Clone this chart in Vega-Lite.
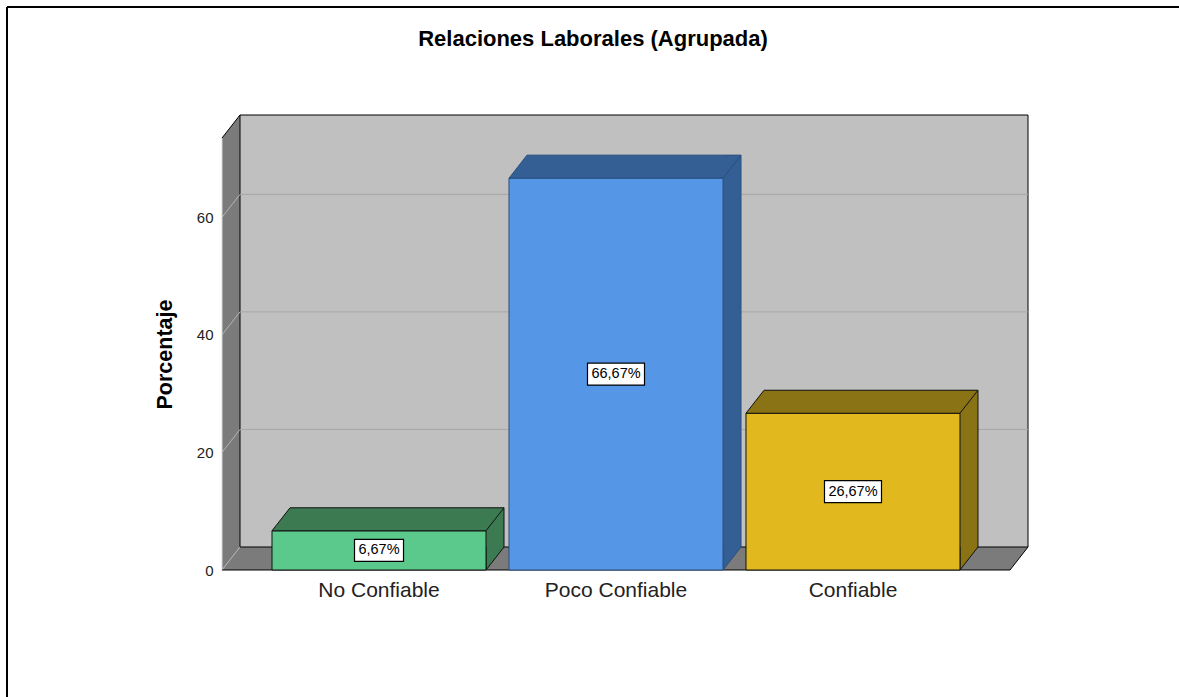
{
  "$schema": "https://vega.github.io/schema/vega-lite/v6.json",
  "width": 788,
  "height": 432,
  "autosize": {"type": "none"},
  "padding": {"left": 222, "top": 138, "right": 169, "bottom": 127},
  "background": "white",
  "config": {
    "view": {"stroke": null},
    "font": "Liberation Sans"
  },
  "title": {
    "text": "Relaciones Laborales (Agrupada)",
    "anchor": "middle",
    "frame": "group",
    "dx": -23,
    "offset": -45,
    "fontSize": 22,
    "fontWeight": "bold",
    "font": "Liberation Sans",
    "color": "#000"
  },
  "data": {
    "values": [
      {"cat": "No Confiable", "pct": 6.67, "label": "6,67%"},
      {"cat": "Poco Confiable", "pct": 66.67, "label": "66,67%"},
      {"cat": "Confiable", "pct": 26.67, "label": "26,67%"}
    ]
  },
  "resolve": {"scale": {"y": "independent"}},
  "layer": [
    {
      "layer": [
        {
          "data": {"values": [{"k": 0}]},
          "mark": {"type": "point", "shape": "M0,0 L0,-432 L18,-455 L18,-23 Z", "size": 4, "filled": true, "fill": "#7b7b7b", "strokeWidth": 0, "opacity": 1},
          "encoding": {"x": {"value": 0}, "y": {"datum": 0, "type": "quantitative"}}
        },
        {
          "data": {"values": [{"k": 0}]},
          "mark": {"type": "point", "shape": "M0,0 L788,0 L806,-23 L18,-23 Z", "size": 4, "filled": true, "fill": "#7b7b7b", "strokeWidth": 0, "opacity": 1},
          "encoding": {"x": {"value": 0}, "y": {"datum": 0, "type": "quantitative"}}
        },
        {
          "data": {"values": [{"k": 0}]},
          "mark": {"type": "rect", "fill": "#c0c0c0", "stroke": "#000", "strokeWidth": 1, "xOffset": 18, "x2Offset": 18, "yOffset": -23, "y2Offset": -23},
          "encoding": {"x": {"value": 0}, "x2": {"value": "width"}, "y": {"datum": 73.5, "type": "quantitative"}, "y2": {"datum": 0}}
        },
        {
          "data": {"values": [{"v": 20}, {"v": 40}, {"v": 60}]},
          "mark": {"type": "rule", "stroke": "#a6a6a6", "strokeWidth": 1, "xOffset": 18, "x2Offset": 18, "yOffset": -23},
          "encoding": {"x": {"value": 0}, "x2": {"value": "width"}, "y": {"field": "v", "type": "quantitative"}}
        },
        {
          "data": {"values": [{"v": 0}, {"v": 20}, {"v": 40}, {"v": 60}]},
          "mark": {"type": "rule", "stroke": "#b4b4b4", "strokeWidth": 1, "x2Offset": 18, "y2Offset": -23},
          "encoding": {"x": {"value": 0}, "x2": {"value": 0}, "y": {"field": "v", "type": "quantitative"}, "y2": {"field": "v"}}
        },
        {
          "data": {"values": [{"k": 0}]},
          "mark": {"type": "rule", "stroke": "#d8d8d8", "strokeWidth": 1},
          "encoding": {"x": {"value": 0}, "y": {"datum": 0, "type": "quantitative"}, "y2": {"datum": 73.5}}
        },
        {
          "data": {"values": [{"k": 0}]},
          "mark": {"type": "rule", "stroke": "#000", "strokeWidth": 1, "x2Offset": 18, "y2Offset": -23},
          "encoding": {"x": {"value": 0}, "x2": {"value": 0}, "y": {"datum": 73.5, "type": "quantitative"}, "y2": {"datum": 73.5}}
        },
        {
          "data": {"values": [{"k": 0}]},
          "mark": {"type": "point", "shape": "M0,0 L788,0 L806,-23", "size": 4, "filled": false, "fill": "transparent", "stroke": "#000", "strokeWidth": 1, "opacity": 1},
          "encoding": {"x": {"value": 0}, "y": {"datum": 0, "type": "quantitative"}}
        },
        {
          "data": {"values": [{"k": 0}]},
          "mark": {"type": "rule", "stroke": "#000", "strokeWidth": 2, "xOffset": -215, "x2Offset": 200, "yOffset": -131},
          "encoding": {"x": {"value": 0}, "x2": {"value": "width"}, "y": {"datum": 73.5, "type": "quantitative"}}
        },
        {
          "data": {"values": [{"k": 0}]},
          "mark": {"type": "rule", "stroke": "#000", "strokeWidth": 2, "xOffset": -215, "yOffset": -131, "y2Offset": 140},
          "encoding": {"x": {"value": 0}, "y": {"datum": 73.5, "type": "quantitative"}, "y2": {"datum": 0}}
        },
        {
          "mark": {"type": "bar", "width": 18, "xOffset": 116, "yOffset": -23, "y2Offset": -23, "strokeWidth": 0},
          "encoding": {
            "x": {"field": "cat", "type": "nominal", "sort": ["No Confiable", "Poco Confiable", "Confiable"]},
            "y": {"field": "pct", "type": "quantitative"},
            "y2": {"datum": 0},
            "fill": {"field": "cat", "type": "nominal", "scale": {"domain": ["No Confiable", "Poco Confiable", "Confiable"], "range": ["#3c7a52", "#335f95", "#8a7314"]}, "legend": null}
          }
        },
        {
          "mark": {"type": "point", "shape": "M107,-23 L107,0 L125,-23", "size": 4, "filled": true, "strokeWidth": 1, "opacity": 1},
          "encoding": {
            "x": {"field": "cat", "type": "nominal", "sort": ["No Confiable", "Poco Confiable", "Confiable"]},
            "y": {"datum": 0, "type": "quantitative"},
            "fill": {"field": "cat", "type": "nominal", "legend": null},
            "stroke": {"field": "cat", "type": "nominal", "scale": {"domain": ["No Confiable", "Poco Confiable", "Confiable"], "range": ["#111111", "#2b4f7e", "#111111"]}, "legend": null}
          }
        },
        {
          "mark": {"type": "rule", "xOffset": 125, "yOffset": -23, "y2Offset": -23, "strokeWidth": 1},
          "encoding": {
            "x": {"field": "cat", "type": "nominal", "sort": ["No Confiable", "Poco Confiable", "Confiable"]},
            "y": {"field": "pct", "type": "quantitative"},
            "y2": {"datum": 0},
            "stroke": {"field": "cat", "type": "nominal", "legend": null}
          }
        },
        {
          "mark": {"type": "bar", "strokeWidth": 1},
          "encoding": {
            "x": {
              "field": "cat", "type": "nominal",
              "sort": ["No Confiable", "Poco Confiable", "Confiable"],
              "scale": {"paddingInner": 0.097, "paddingOuter": 0.211},
              "axis": {"title": null, "labelAngle": 0, "labelAlign": "center", "labelBaseline": "top", "labelFontSize": 21, "labelFont": "Liberation Sans", "labelColor": "#222", "labelPadding": 9, "ticks": false, "domain": false, "grid": false}
            },
            "y": {
              "field": "pct", "type": "quantitative",
              "scale": {"domain": [0, 73.5], "nice": false, "zero": true},
              "axis": {"title": "Porcentaje", "titleFontSize": 21.5, "titleFont": "Liberation Sans", "titleFontWeight": "bold", "titleColor": "#000", "titlePadding": 20, "values": [0, 20, 40, 60], "labelFontSize": 15, "labelFont": "Liberation Sans", "labelColor": "#222", "labelPadding": 9, "ticks": false, "domain": false, "grid": false}
            },
            "color": {"field": "cat", "type": "nominal", "scale": {"domain": ["No Confiable", "Poco Confiable", "Confiable"], "range": ["#5bc98b", "#5596e6", "#e1b91f"]}, "legend": null},
            "stroke": {"field": "cat", "type": "nominal", "legend": null}
          }
        },
        {
          "mark": {"type": "point", "shape": "M-107,0 L107,0 L125,-23 L-89,-23 Z", "size": 4, "filled": true, "strokeWidth": 1, "opacity": 1},
          "encoding": {
            "x": {"field": "cat", "type": "nominal", "sort": ["No Confiable", "Poco Confiable", "Confiable"]},
            "y": {"field": "pct", "type": "quantitative"},
            "fill": {"field": "cat", "type": "nominal", "legend": null},
            "stroke": {"field": "cat", "type": "nominal", "legend": null}
          }
        }
      ]
    },
    {
      "encoding": {
        "x": {"field": "cat", "type": "nominal", "sort": ["No Confiable", "Poco Confiable", "Confiable"]},
        "y": {"field": "pct", "type": "quantitative", "scale": {"domain": [0, 147], "nice": false, "zero": true}, "axis": null}
      },
      "layer": [
        {
          "transform": [{"filter": "datum.pct < 10"}],
          "mark": {"type": "point", "shape": "M-24.5,-11 L24.5,-11 L24.5,11 L-24.5,11 Z", "size": 4, "filled": true, "fill": "#ffffff", "stroke": "#000", "strokeWidth": 1.2, "opacity": 1}
        },
        {
          "transform": [{"filter": "datum.pct >= 10"}],
          "mark": {"type": "point", "shape": "M-28.5,-11 L28.5,-11 L28.5,11 L-28.5,11 Z", "size": 4, "filled": true, "fill": "#ffffff", "stroke": "#000", "strokeWidth": 1.2, "opacity": 1}
        },
        {
          "mark": {"type": "text", "fontSize": 14.5, "font": "Liberation Sans", "color": "#000", "align": "center", "baseline": "middle"},
          "encoding": {"text": {"field": "label"}}
        }
      ]
    }
  ]
}
